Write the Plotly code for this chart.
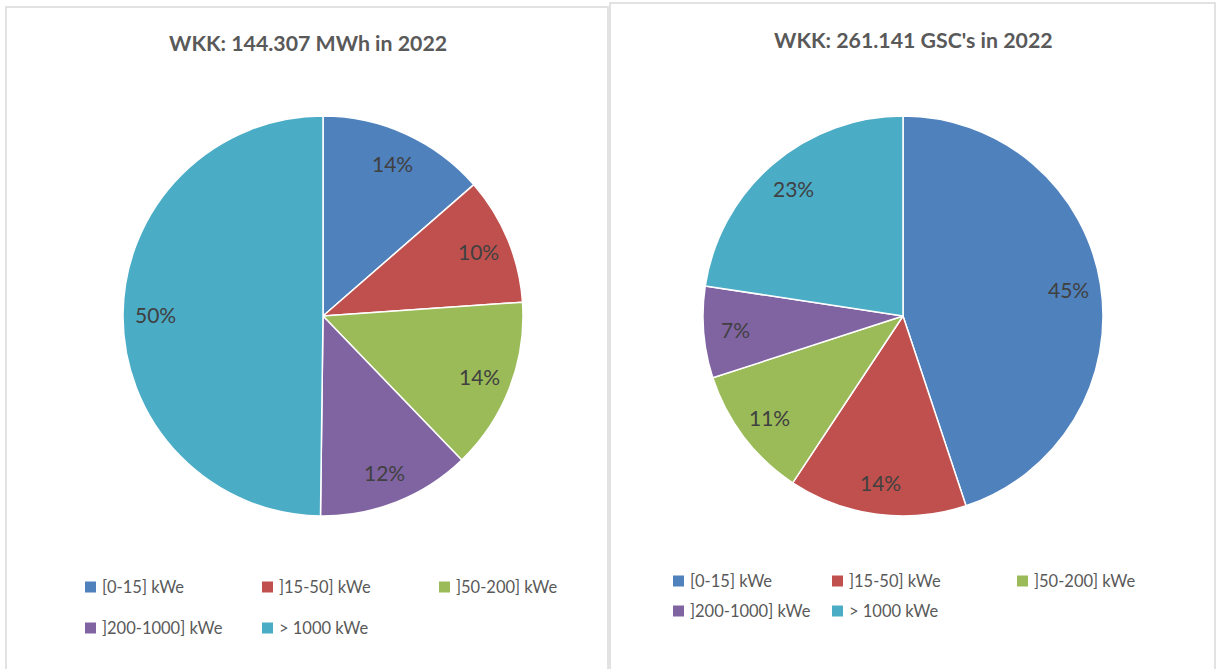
import math
import plotly.graph_objects as go

W, H = 1219, 669

categories = ["[0-15] kWe", "]15-50] kWe", "]50-200] kWe", "]200-1000] kWe", "> 1000 kWe"]
mwh_share = [13.6, 10.3, 13.9, 12.4, 49.8]
gsc_share = [44.9, 14.4, 10.7, 7.4, 22.6]
colors = ["#4F81BD", "#C0504D", "#9BBB59", "#8064A2", "#4BACC6"]
title_left = "WKK: 144.307 MWh in 2022"
title_right = "WKK: 261.141 GSC's in 2022"

FONT = "Lato"


def px(x):
    return x / W


def py(y):
    return 1 - y / H


fig = go.Figure()
annotations = []

R = 200
LABEL_FRAC = 0.84
for vals, (cx, cy), name in [(mwh_share, (323, 316), "MWh"), (gsc_share, (903, 316), "GSC")]:
    fig.add_trace(go.Pie(
        labels=categories,
        values=vals,
        name=name,
        sort=False,
        direction="clockwise",
        rotation=0,
        marker=dict(colors=colors, line=dict(color="white", width=1.5)),
        textinfo="none",
        domain=dict(x=[px(cx - R), px(cx + R)], y=[py(cy + R), py(cy - R)]),
        showlegend=False,
        hoverinfo="label+percent",
    ))
    # data labels at a fixed fraction of the radius along each slice's mid-angle
    total = sum(vals)
    cum = 0.0
    for v in vals:
        mid = 2 * math.pi * (cum + v / 2) / total
        cum += v
        lx = cx + LABEL_FRAC * R * math.sin(mid)
        ly = cy - LABEL_FRAC * R * math.cos(mid)
        annotations.append(dict(text=f"{round(100 * v / total)}%", x=px(lx), y=py(ly),
                                xref="paper", yref="paper", showarrow=False,
                                xanchor="center", yanchor="middle",
                                font=dict(family=FONT, size=21, color="#404040")))

shapes = []
# panel borders
shapes.append(dict(type="rect", xref="paper", yref="paper",
                   x0=px(6), x1=px(608), y0=py(690), y1=py(7),
                   line=dict(color="#D9D9D9", width=1.5), fillcolor="rgba(0,0,0,0)", layer="below"))
shapes.append(dict(type="rect", xref="paper", yref="paper",
                   x0=px(610), x1=px(1215), y0=py(690), y1=py(3),
                   line=dict(color="#D9D9D9", width=1.5), fillcolor="rgba(0,0,0,0)", layer="below"))

annotations += [
    dict(text="<b>" + title_left + "</b>", x=px(308), y=py(43), xref="paper", yref="paper",
         showarrow=False, xanchor="center", yanchor="middle",
         font=dict(family=FONT, size=21.3, color="#595959")),
    dict(text="<b>" + title_right + "</b>", x=px(913), y=py(40), xref="paper", yref="paper",
         showarrow=False, xanchor="center", yanchor="middle",
         font=dict(family=FONT, size=21.3, color="#595959")),
]

# custom legends (grid positions in pixels)
legend_layouts = [
    ([85, 262, 439], [587, 628]),
    ([673, 832, 1017], [581, 611]),
]
for cols, rows in legend_layouts:
    for i, (cat, col) in enumerate(zip(categories, colors)):
        x = cols[i % 3]
        y = rows[i // 3]
        shapes.append(dict(type="rect", xref="paper", yref="paper",
                           x0=px(x), x1=px(x + 11), y0=py(y + 5.5), y1=py(y - 5.5),
                           fillcolor=col, line=dict(width=0)))
        annotations.append(dict(text=cat, x=px(x + 15), y=py(y), xref="paper", yref="paper",
                                showarrow=False, xanchor="left", yanchor="middle",
                                font=dict(family=FONT, size=16.5, color="#595959")))

fig.update_layout(
    width=W, height=H,
    margin=dict(l=0, r=0, t=0, b=0),
    paper_bgcolor="white",
    plot_bgcolor="white",
    shapes=shapes,
    annotations=annotations,
    showlegend=False,
)

fig.write_html("out.html", config={"displayModeBar": False},
               post_script="document.body.style.margin='0px';document.body.style.overflow='hidden';")
